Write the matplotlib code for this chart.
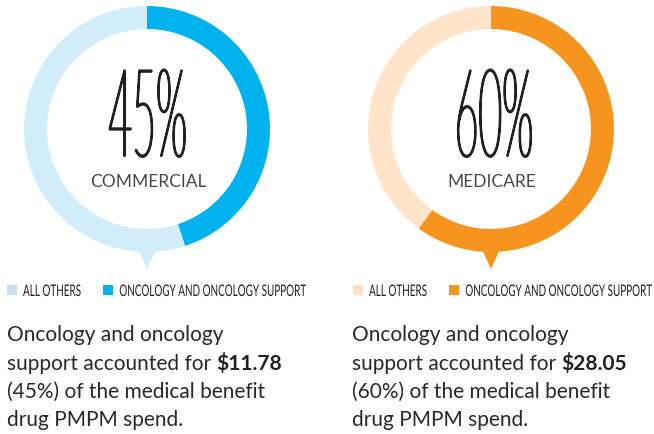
import matplotlib
matplotlib.use('Agg')
import matplotlib.pyplot as plt
from matplotlib.patheffects import AbstractPathEffect
from matplotlib.transforms import Affine2D, Bbox
from matplotlib.patches import Polygon, Rectangle
from matplotlib.text import Text

# ---------------- data ----------------
segments = ['COMMERCIAL', 'MEDICARE']
oncology_share = [45, 60]
others_share = [55, 40]
pmpm_spend = ['$11.78', '$28.05']
legend_labels = ['ALL OTHERS', 'ONCOLOGY AND ONCOLOGY SUPPORT']

main_colors = ['#00B3EE', '#F7941E']
light_colors = ['#D2EDFA', '#FFE4CA']
legend_light = ['#C9DFF2', '#FFE0C4']
TEXT = '#231F20'

W, H = 654, 435


class Squash(AbstractPathEffect):
    """Horizontally condense text glyphs (optionally thicken with a stroke)."""
    def __init__(self, sx, anchor='center', lw=0.0):
        super().__init__()
        self.sx = sx
        self.anchor = anchor
        self.lw = lw

    def draw_path(self, renderer, gc, tpath, affine, rgbFace=None):
        ext = tpath.get_extents()
        ax0 = (ext.x0 + ext.x1) / 2 if self.anchor == 'center' else ext.x0
        t = Affine2D().translate(-ax0, 0).scale(self.sx, 1).translate(ax0, 0) + affine
        gc0 = renderer.new_gc()
        gc0.copy_properties(gc)
        if self.lw > 0:
            gc0.set_linewidth(self.lw)
            gc0.set_foreground(rgbFace)
        else:
            gc0.set_linewidth(0)
        renderer.draw_path(gc0, tpath, t, rgbFace)
        gc0.restore()


class CondensedText(Text):
    """A real Text whose glyphs are drawn horizontally condensed; its extent follows."""
    def __init__(self, x, y, s, sx=1.0, anchor='center', lw=0.0, trim_descent=False, **kw):
        super().__init__(x, y, s, **kw)
        self._sx = sx
        self._anchor = anchor
        self._trim = trim_descent
        self.set_path_effects([Squash(sx, anchor, lw)])

    def get_window_extent(self, renderer=None, dpi=None):
        bb = super().get_window_extent(renderer, dpi)
        x0, y0, x1, y1 = bb.x0, bb.y0, bb.x1, bb.y1
        c = (x0 + x1) / 2 if self._anchor == 'center' else x0
        x0 = c + (x0 - c) * self._sx
        x1 = c + (x1 - c) * self._sx
        if self._trim and self.axes is not None:
            yb = self.get_transform().transform(self.get_unitless_position())[1]
            y0 = max(y0, yb)
        return Bbox([[x0, y0], [x1, y1]])


fig = plt.figure(figsize=(W / 100, H / 100), dpi=100)
ax = fig.add_axes([0, 0, 1, 1])

centers_x = [147, 491]
cy = 130
R = 123
ring_w = 23


def Y(y):
    return H - y


for i in range(2):
    cx = centers_x[i]
    ax.pie([oncology_share[i], others_share[i]],
           colors=[main_colors[i], light_colors[i]],
           startangle=90, counterclock=False, radius=R,
           center=(cx, Y(cy)), frame=True,
           wedgeprops=dict(width=ring_w, linewidth=0))
    # pointer triangle takes the colour of the wedge at the bottom
    bottom_col = main_colors[i] if oncology_share[i] / 100 * 360 > 180 else light_colors[i]
    ax.add_patch(Polygon([(cx - 10.5, Y(cy + R - 6)), (cx + 10.5, Y(cy + R - 6)),
                          (cx, Y(cy + R + 17))], closed=True,
                         facecolor=bottom_col, edgecolor='none'))

    # big percentage
    ax.add_artist(CondensedText(cx + 2, Y(157), f'{oncology_share[i]}%', sx=0.335,
                                anchor='center', lw=1.5, trim_descent=True,
                                ha='center', va='baseline', fontsize=88,
                                family='Lato', weight='light', color=TEXT))
    ax.text(cx + 1, Y(187), segments[i], ha='center', va='baseline',
            fontsize=12.5, family='Lato', weight='normal', color='#4a4647')

    # legend
    lx = [7, 353][i]
    lx2 = [103, 449][i]
    ax.add_patch(Rectangle((lx, Y(296)), 10, 10, facecolor=legend_light[i], edgecolor='none'))
    ax.add_artist(CondensedText(lx + 16, Y(297), legend_labels[0], sx=0.62, anchor='left',
                                ha='left', va='baseline', fontsize=11.5,
                                family='Lato', color=TEXT))
    ax.add_patch(Rectangle((lx2, Y(296)), 10, 10, facecolor=main_colors[i], edgecolor='none'))
    ax.add_artist(CondensedText(lx2 + 16, Y(297), legend_labels[1], sx=0.62, anchor='left',
                                ha='left', va='baseline', fontsize=11.5,
                                family='Lato', color=TEXT))

    # paragraph
    px = [7, 352][i]
    fs = 15
    kw = dict(ha='left', va='baseline', fontsize=fs, family='Lato', weight='normal',
              color='#2b2728', parse_math=False)
    ax.text(px, Y(341), 'Oncology and oncology', **kw)
    t1 = ax.text(px, Y(370), 'support accounted for ', **kw)
    ax.annotate(pmpm_spend[i], xy=(1, 0), xycoords=t1, ha='left', va='bottom',
                fontsize=fs, family='Lato', weight='bold', color=TEXT,
                annotation_clip=False)
    ax.text(px, Y(398), f'({oncology_share[i]}%) of the medical benefit', **kw)
    ax.text(px, Y(426), 'drug PMPM spend.', **kw)

ax.set_xlim(0, W)
ax.set_ylim(0, H)
ax.set_aspect('auto')
ax.axis('off')

fig.savefig('out.png', dpi=100)
